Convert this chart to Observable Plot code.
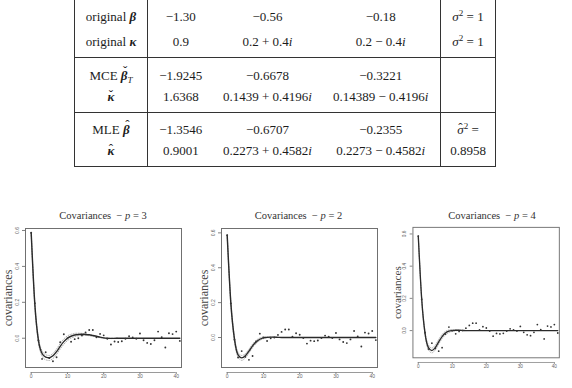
<!DOCTYPE html>
<html>
<head>
<meta charset="utf-8">
<script src="https://cdn.jsdelivr.net/npm/d3@7"></script>
<script src="https://cdn.jsdelivr.net/npm/@observablehq/plot@0.6"></script>
<style>
  html, body { margin: 0; padding: 0; background: #fff; overflow: hidden; width: 572px; height: 388px; }
  body { position: relative; font-family: "Liberation Serif", "Times New Roman", serif; color: #1c1c1c; }
  table.est { position: absolute; left: 74px; top: -2px; border-collapse: collapse; table-layout: fixed;
              font-size: 13px; border: 1px solid #333; }
  table.est td { padding: 0; line-height: 21px; height: 21px; text-align: center; white-space: nowrap; }
  table.est tbody { border-top: 1px solid #333; border-bottom: 1px solid #333; }
  table.est td.lab { border-right: 1px solid #333; }
  table.est td.c3 { border-right: 1px solid #333; }
  table.est tr.first td { padding-top: 7px; }
  table.est tr.last td { padding-bottom: 5px; }
  table.est tbody.g1 tr.first td { padding-bottom: 4px; }
  table.est tbody.g3 tr.first td { padding-top: 6px; }
  .acc { position: relative; display: inline-block; line-height: 13px; vertical-align: baseline; }
  .acc .mk { position: absolute; left: 0; right: 0; top: -2px; line-height: 13px; text-align: center;
             font-weight: normal; font-style: normal; font-size: 13px; }
  .acc.tall .mk { top: -5px; left: 2px; }
  sup { font-size: 0.7em; line-height: 0; vertical-align: 0.55em; }
  sub { font-size: 0.7em; line-height: 0; vertical-align: -0.3em; }
  .title { position: absolute; text-align: center; font-size: 10.5px; color: #333; white-space: nowrap; }
  .panel { position: absolute; top: 210px; }
  .panel svg { overflow: visible; }
</style>
</head>
<body>
<table class="est" id="est"></table>
<div id="panels"></div>
<script>
// Roots of the AR(3) polynomial: original values and two estimates
const originalBeta  = ["-1.30", "-0.56", "-0.18"];
const originalKappa = ["0.9", "0.2 + 0.4i", "0.2 - 0.4i"];
const mceBeta       = ["-1.9245", "-0.6678", "-0.3221"];
const mceKappa      = ["1.6368", "0.1439 + 0.4196i", "0.14389 - 0.4196i"];
const mleBeta       = ["-1.3546", "-0.6707", "-0.2355"];
const mleKappa      = ["0.9001", "0.2273 + 0.4582i", "0.2273 - 0.4582i"];
const originalSigma2 = "1";
const mleSigma2      = "0.8958";

// Covariance functions, lags 0..41
const lags = [0, 1, 2, 3, 4, 5, 6, 7, 8, 9, 10, 11, 12, 13, 14, 15, 16, 17, 18, 19, 20,
              21, 22, 23, 24, 25, 26, 27, 28, 29, 30, 31, 32, 33, 34, 35, 36, 37, 38, 39, 40, 41];
const sampleCov = [0.587, 0.195, -0.013, -0.115, -0.078, -0.111, -0.128, -0.106, -0.022, 0.022, 0.0,
                   -0.02, -0.005, 0.0, 0.015, 0.032, 0.046, 0.046, 0.005, 0.024, 0.016,
                   -0.003, -0.035, -0.018, -0.021, -0.017, -0.003, 0.011, 0.005, -0.003, 0.026,
                   -0.011, -0.026, -0.032, -0.011, 0.037, 0.006, -0.052, 0.028, 0.023, 0.037, -0.015];

const fitP3 = [0.587, 0.19, -0.012, -0.085, -0.105, -0.109, -0.098, -0.075, -0.045, -0.019, 0.0,
               0.011, 0.018, 0.021, 0.022, 0.021, 0.019, 0.015, 0.011, 0.006, 0.002,
               0.0, -0.001, -0.001, 0, 0, 0, 0, 0, 0, 0, 0, 0, 0, 0, 0, 0, 0, 0, 0, 0, 0];
const upperP3 = [0.587, 0.2, 0.0, -0.07, -0.092, -0.096, -0.085, -0.06, -0.03, -0.004, 0.013,
                 0.022, 0.027, 0.028, 0.027, 0.024, 0.02, 0.015, 0.01, 0.005, 0.002, 0.0, 0.0, 0.0, 0.0];
const lowerP3 = [0.587, 0.18, -0.024, -0.1, -0.12, -0.124, -0.113, -0.09, -0.06, -0.034, -0.013,
                 0.0, 0.009, 0.014, 0.016, 0.016, 0.014, 0.011, 0.007, 0.003, 0.0, -0.001, -0.002, -0.001, 0.0];

const fitP2 = [0.587, 0.2, -0.008, -0.1, -0.117, -0.105, -0.078, -0.048, -0.025, -0.01, -0.002,
               0.001, 0.002, 0.002, 0.001, 0, 0, 0, 0, 0, 0,
               0, 0, 0, 0, 0, 0, 0, 0, 0, 0, 0, 0, 0, 0, 0, 0, 0, 0, 0, 0, 0];
const upperP2 = [0.587, 0.21, 0.005, -0.085, -0.103, -0.093, -0.067, -0.038, -0.016, -0.003, 0.003,
                 0.004, 0.003, 0.002, 0.001, 0.0];
const lowerP2 = [0.587, 0.19, -0.02, -0.113, -0.131, -0.117, -0.089, -0.058, -0.034, -0.017, -0.007,
                 -0.002, 0.0, 0.0, 0.0, 0.0];

const fitP4 = [0.587, 0.197, -0.019, -0.106, -0.124, -0.106, -0.07, -0.037, -0.015, -0.004, 0.0,
               0.002, 0.002, 0.001, 0, 0, 0, 0, 0, 0, 0,
               0, 0, 0, 0, 0, 0, 0, 0, 0, 0, 0, 0, 0, 0, 0, 0, 0, 0, 0, 0, 0];
const upperP4 = [0.587, 0.205, -0.005, -0.09, -0.108, -0.09, -0.055, -0.024, -0.005, 0.004, 0.006,
                 0.005, 0.003, 0.001, 0.0];
const lowerP4 = [0.587, 0.19, -0.03, -0.12, -0.138, -0.12, -0.084, -0.05, -0.026, -0.012, -0.005,
                 -0.001, 0.0, 0.0, 0.0];

const orders = [3, 2, 4];
const xTicks = [0, 10, 20, 30, 40];
const yTicks = [0.0, 0.2, 0.4, 0.6];

// ---------- estimates table ----------
function mathText(s) {
  return s.replace(/-/g, "\u2212").replace(/(\d)i$/, "$1<i>i</i>");
}
const beta = '<b><i>β</i></b>', kappa = '<b><i>κ</i></b>';
const accent = (sym, mark, tall) => `<span class="acc${tall ? " tall" : ""}">${sym}<span class="mk">${mark}</span></span>`;
const sigma2 = '<i>σ</i><sup>2</sup>';

const groups = [
  { cls: "g1", rows: [
    [`original ${beta}`, originalBeta, `${sigma2} = ${originalSigma2}`],
    [`original ${kappa}`, originalKappa, `${sigma2} = ${originalSigma2}`]] },
  { cls: "g2", rows: [
    [`MCE ${accent(beta, "ˇ", true)}<sub><i>T</i></sub>`, mceBeta, ""],
    [accent(kappa, "ˇ"), mceKappa, ""]] },
  { cls: "g3", rows: [
    [`MLE ${accent(beta, "ˆ", true)}`, mleBeta, `${accent("<i>σ</i>", "ˆ")}<sup>2</sup> =`],
    [accent(kappa, "ˆ"), mleKappa, mleSigma2]] }
];

const table = document.getElementById("est");
table.innerHTML =
  `<colgroup><col style="width:73px"><col style="width:66px"><col style="width:108px">` +
  `<col style="width:119px"><col style="width:55px"></colgroup>` +
  groups.map(g => `<tbody class="${g.cls}">` + g.rows.map((r, k) =>
    `<tr class="${k === 0 ? "first" : "last"}"><td class="lab">${r[0]}</td>` +
    r[1].map((v, j) => `<td class="c${j + 1}">${mathText(v)}</td>`).join("") +
    `<td>${r[2]}</td></tr>`).join("") + `</tbody>`).join("");

// ---------- covariance panels ----------
const panels = [
  { fit: fitP3, upper: upperP3, lower: lowerP3, yDomain: [-0.163, 0.611] },
  { fit: fitP2, upper: upperP2, lower: lowerP2, yDomain: [-0.172, 0.625] },
  { fit: fitP4, upper: upperP4, lower: lowerP4, yDomain: [-0.169, 0.641] }
];
const lefts = [0, 195.5, 389];
const W = 195, H = 178, mL = 25, mR = 14, mT = 18, mB = 21;
const holder = document.getElementById("panels");

panels.forEach((p, i) => {
  const pts = lags.map((lag, k) => ({ lag, cov: sampleCov[k] }));
  const fit = lags.map((lag, k) => ({ lag, cov: p.fit[k] }));
  const up = p.upper.map((v, k) => ({ lag: lags[k], cov: v }));
  const lo = p.lower.map((v, k) => ({ lag: lags[k], cov: v }));

  const chart = Plot.plot({
    width: W, height: H,
    marginLeft: mL, marginRight: mR, marginTop: mT, marginBottom: mB,
    x: { domain: [-1.57, 41.46] },
    y: { domain: p.yDomain },
    style: { fontFamily: "'Liberation Sans', sans-serif", fontSize: "5px", color: "#555", background: "transparent" },
    marks: [
      Plot.frame({ stroke: "#707070", strokeWidth: 1 }),
      Plot.ruleY([p.yDomain[0]], { x1: xTicks[0], x2: xTicks[xTicks.length - 1], dy: 5, stroke: "#808080", strokeWidth: 0.8 }),
      Plot.axisX({ ticks: xTicks, label: null, tickSize: 2, tickPadding: 0, dy: 5, tickFormat: d => String(d), stroke: "#808080", fill: "#666" }),
      Plot.axisY({ ticks: yTicks, label: null, tickSize: 3, tickPadding: 4, tickRotate: -90, tickFormat: d3.format(".1f"), stroke: "#808080", fill: "#666" }),
      Plot.text(["covariances"], { text: d => d, frameAnchor: "left", textAnchor: "middle", rotate: -90, dx: -17,
        fontSize: 12, fontFamily: "'Liberation Serif', serif", fill: "#444" }),
      Plot.line(up, { x: "lag", y: "cov", curve: "monotone-x", stroke: "#9a9a9a", strokeWidth: 0.8, strokeDasharray: "1,1.6" }),
      Plot.line(lo, { x: "lag", y: "cov", curve: "monotone-x", stroke: "#9a9a9a", strokeWidth: 0.8, strokeDasharray: "1,1.6" }),
      Plot.line(fit, { x: "lag", y: "cov", curve: "monotone-x", stroke: "#2a2a2a", strokeWidth: 1.4 }),
      Plot.dot(pts, { x: "lag", y: "cov", r: 0.95, fill: "#333", stroke: "none" })
    ]
  });

  const wrap = document.createElement("div");
  wrap.className = "panel";
  wrap.style.left = lefts[i] + "px";
  wrap.appendChild(chart);
  holder.appendChild(wrap);

  const t = document.createElement("div");
  t.className = "title";
  t.style.left = (lefts[i] + mL) + "px";
  t.style.width = (W - mL - mR) + "px";
  t.style.top = "210px";
  t.innerHTML = `Covariances&nbsp; \u2212 <i>p</i> = ${orders[i]}`;
  holder.appendChild(t);
});
</script>
</body>
</html>
